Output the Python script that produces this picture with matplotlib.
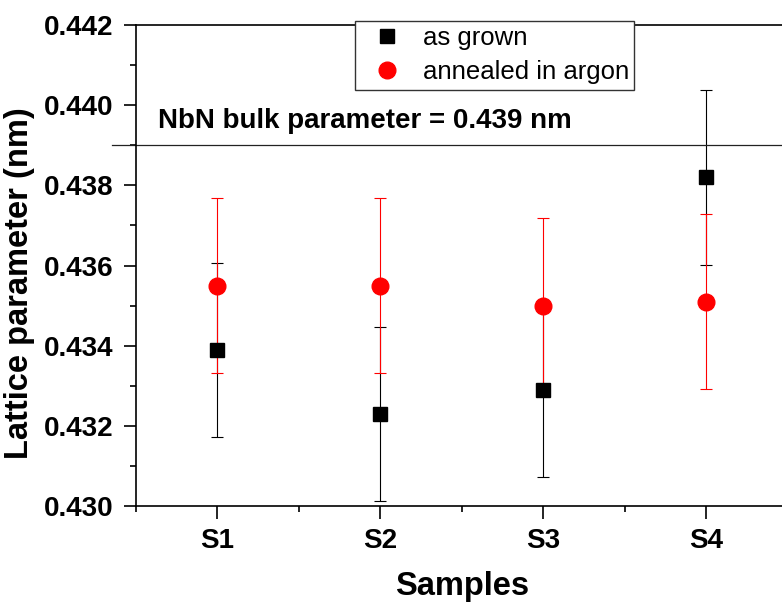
import matplotlib
matplotlib.use('Agg')
import matplotlib.pyplot as plt
from matplotlib.lines import Line2D
from matplotlib.ticker import MultipleLocator, FormatStrFormatter

plt.rcParams['font.family'] = ['Liberation Sans', 'DejaVu Sans']

samples = ['S1', 'S2', 'S3', 'S4']
grown = [0.4339, 0.4323, 0.4329, 0.4382]
grown_err = [0.00217, 0.00217, 0.00217, 0.00218]
annealed = [0.4355, 0.4355, 0.4350, 0.4351]
annealed_err = [0.00218, 0.00218, 0.00218, 0.00218]
bulk = 0.439

xs = list(range(1, len(samples) + 1))

fig = plt.figure(figsize=(7.82, 6.08), dpi=100)
# axes runs past the right edge, like the cropped original
ax = fig.add_axes([136/782, 102/608, 651.5/782, 481/608])

ax.errorbar(xs, grown, yerr=grown_err, fmt='s', color='black', ms=10,
            elinewidth=0.8, capsize=4.5, capthick=0.8)
ax.errorbar(xs, annealed, yerr=annealed_err, fmt='o', color='red', ms=12,
            elinewidth=0.8, capsize=4.5, capthick=0.8)

ax.axhline(bulk, xmin=-0.037, xmax=1, color='#222222', lw=0.9, clip_on=False)
ax.text(0.635, 0.43943, 'NbN bulk parameter = 0.439 nm', fontsize=20,
        fontweight='bold', va='baseline')

ax.set_xlim(0.5, 4.5)
ax.set_ylim(0.430, 0.442)
ax.set_xticks(xs)
ax.set_xticklabels(samples)
ax.xaxis.set_minor_locator(MultipleLocator(0.5))
ax.yaxis.set_major_locator(MultipleLocator(0.002))
ax.yaxis.set_minor_locator(MultipleLocator(0.001))
ax.yaxis.set_major_formatter(FormatStrFormatter('%.3f'))

ax.tick_params(which='major', direction='out', length=9, width=1.2,
               labelsize=20, pad=7)
ax.tick_params(which='minor', direction='out', length=4.5, width=1.2)
for lab in ax.get_xticklabels() + ax.get_yticklabels():
    lab.set_fontweight('bold')
for sp in ax.spines.values():
    sp.set_linewidth(1.2)

ax.set_xlabel('Samples', fontsize=23.5, fontweight='bold', labelpad=12)
ax.set_ylabel('Lattice parameter (nm)', fontsize=23.5, fontweight='bold')
ax.yaxis.set_label_coords(-0.155, 0.464)

handles = [Line2D([], [], ls='none', marker='s', color='black', ms=10),
           Line2D([], [], ls='none', marker='o', color='red', ms=12)]
leg = ax.legend(handles, ['as grown', 'annealed in argon'], loc='upper left',
                bbox_to_anchor=(355/782, 1 - 21/608),
                bbox_transform=fig.transFigure, fontsize=18.5, frameon=True,
                fancybox=False, edgecolor='#333333', framealpha=1,
                handlelength=2.1, handletextpad=0.35, borderpad=0.2,
                borderaxespad=0, labelspacing=0.4)
leg.get_frame().set_linewidth(1.0)

fig.savefig('out.png', dpi=100)
